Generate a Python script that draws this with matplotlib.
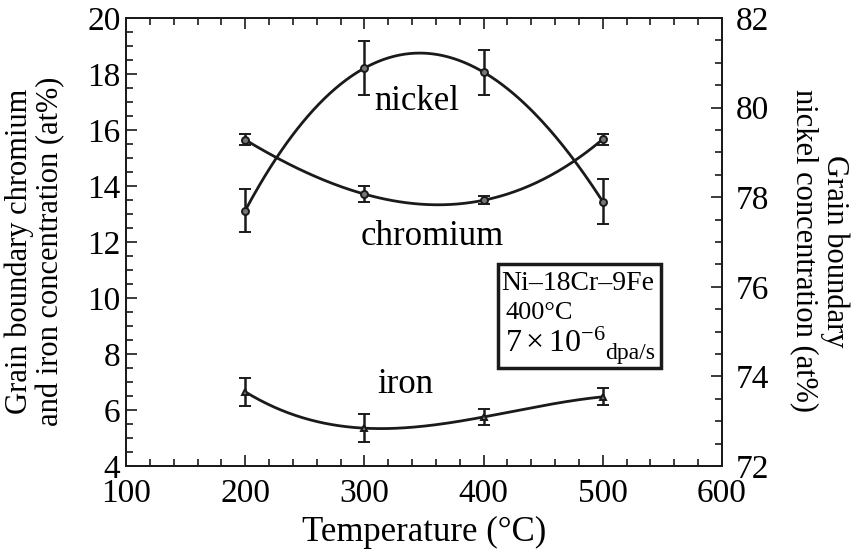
import numpy as np
import matplotlib
matplotlib.use("Agg")
import matplotlib.pyplot as plt
from matplotlib.patches import Rectangle
from matplotlib.ticker import MultipleLocator

plt.rcParams["font.family"] = ["Liberation Serif", "DejaVu Serif"]
plt.rcParams["mathtext.fontset"] = "custom"
plt.rcParams["mathtext.rm"] = "Liberation Serif"
plt.rcParams["mathtext.it"] = "Liberation Serif:italic"

# irradiation temperature (C)
temps = [200, 300, 400, 500]

# grain boundary concentrations (at%) and their scatter
chromium = [15.65, 13.71, 13.49, 15.67]
chromium_err = [0.2, 0.3, 0.15, 0.2]
iron = [6.65, 5.35, 5.75, 6.47]
iron_err = [0.5, 0.5, 0.3, 0.3]
nickel = [77.70, 80.88, 80.79, 77.90]
nickel_err = [0.48, 0.6, 0.5, 0.5]

fig = plt.figure(figsize=(8.53, 5.58), dpi=100)
ax = fig.add_axes([0.1477, 0.1649, 0.6987, 0.8029])
ax2 = ax.twinx()

ink = "#1a1a1a"
t_fit = np.linspace(200, 500, 200)


def draw_series(axis, y, err, marker):
    # smooth curve through the measured points
    coef = np.polyfit(temps, y, 3)
    axis.plot(t_fit, np.polyval(coef, t_fit), color=ink, lw=2.0, zorder=2)
    axis.errorbar(temps, y, yerr=err, fmt=marker, ms=5, mfc="#777777",
                  mec=ink, mew=1.4, ecolor=ink, elinewidth=1.8,
                  capsize=4, capthick=1.8, zorder=3)


draw_series(ax, chromium, chromium_err, "o")
draw_series(ax, iron, iron_err, "^")
draw_series(ax2, nickel, nickel_err, "o")

ax.set_xlim(100, 600)
ax.set_ylim(4, 20)
ax2.set_ylim(72, 82)

ax.xaxis.set_major_locator(MultipleLocator(100))
ax.xaxis.set_minor_locator(MultipleLocator(20))
ax.yaxis.set_major_locator(MultipleLocator(2))
ax.yaxis.set_minor_locator(MultipleLocator(0.5))
ax2.yaxis.set_major_locator(MultipleLocator(2))
ax2.yaxis.set_minor_locator(MultipleLocator(0.5))

for a in (ax, ax2):
    for s in a.spines.values():
        s.set_linewidth(1.3)
        s.set_color(ink)
ax.tick_params(axis="x", which="both", direction="in", top=True, labelsize=24,
               color=ink, width=1.2, pad=9)
ax.tick_params(axis="x", which="major", length=8)
ax.tick_params(axis="x", which="minor", length=5)
ax.tick_params(axis="y", which="both", direction="in", right=False, labelsize=24,
               color=ink, width=1.2, pad=4)
ax.tick_params(axis="y", which="major", length=8)
ax.tick_params(axis="y", which="minor", length=5)
ax2.tick_params(axis="y", which="both", direction="in", labelsize=24,
                color=ink, width=1.2, pad=10)
ax2.tick_params(axis="y", which="major", length=8)
ax2.tick_params(axis="y", which="minor", length=5)

ax.set_xlabel("Temperature (°C)", fontsize=25, labelpad=5)
ax.set_ylabel("Grain boundary chromium\nand iron concentration (at%)",
              fontsize=22, linespacing=1.05)
ax.yaxis.label.set_va("center")
ax.yaxis.set_label_coords(-0.153, 0.48)
ax2.set_ylabel("Grain boundary\nnickel concentration (at%)", fontsize=22,
               rotation=270, linespacing=1.05)
ax2.yaxis.label.set_va("center")
ax2.yaxis.set_label_coords(1.164, 0.48)

ax.text(344, 17.0, "nickel", fontsize=25, ha="center", va="center")
ax.text(357, 12.2, "chromium", fontsize=25, ha="center", va="center")
ax.text(334, 6.9, "iron", fontsize=25, ha="center", va="center")

# condition box
ax.add_patch(Rectangle((0.625, 0.218), 0.272, 0.232, transform=ax.transAxes,
                       fill=False, lw=2.5, ec=ink, zorder=4))
ax.text(0.630, 0.408, "Ni\u201318Cr\u20139Fe", transform=ax.transAxes,
        fontsize=20, va="center")
ax.text(0.636, 0.341, "400°C", transform=ax.transAxes, fontsize=19,
        va="center")
ax.text(0.636, 0.272, r"$7\times10^{-6}$", transform=ax.transAxes,
        fontsize=23, va="center")
ax.text(0.804, 0.250, "dpa/s", transform=ax.transAxes, fontsize=17,
        va="center")

fig.savefig("out.png", dpi=100)
